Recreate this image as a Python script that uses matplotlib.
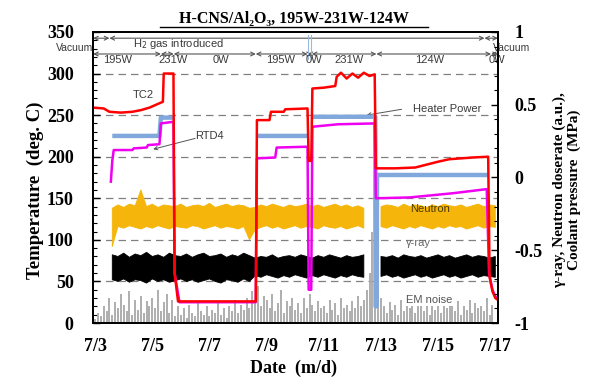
import numpy as np
import matplotlib
matplotlib.use('Agg')
import matplotlib.pyplot as plt
from matplotlib.ticker import MultipleLocator
from matplotlib.lines import Line2D

plt.rcParams['axes.unicode_minus'] = False

# ---------------- data ----------------
date_ticks = [3, 5, 7, 9, 11, 13, 15, 17]
date_labels = ['7/3', '7/5', '7/7', '7/9', '7/11', '7/13', '7/15', '7/17']
right_ticks = [-1, -0.5, 0, 0.5, 1]
right_labels = ['-1', '-0.5', '0', '0.5', '1']

# TC2 (red)
tc2_t = [2.93, 3.3, 3.5, 3.9, 4.3, 4.6, 4.9, 5.1, 5.3, 5.37, 5.4, 5.74, 5.78, 5.9,
         8.62, 8.66, 9.1, 9.15, 9.6, 9.65, 10.43, 10.47, 10.56, 10.6, 11.0, 11.4,
         11.45, 11.6, 11.8, 12.0, 12.2, 12.4, 12.6, 12.78, 12.82, 13.5, 14.2, 15.0,
         15.4, 16.2, 16.75, 16.8, 16.9, 17.0, 17.08]
tc2_v = [259, 258, 254, 253, 254, 256, 259, 262, 265, 266, 300, 300, 60, 26,
         26, 244, 244, 254, 254, 257, 258, 195, 195, 282, 283, 285,
         296, 301, 294, 300, 295, 301, 297, 299, 186, 186, 187, 194,
         197, 199, 200, 55, 38, 30, 28]

# RTD4 (magenta)
rtd4_t = [3.55, 3.6, 3.65, 4.3, 4.35, 4.8, 4.85, 5.25, 5.3, 5.74, 5.78, 5.95,
          8.62, 8.66, 9.3, 9.35, 10.43, 10.47, 10.56, 10.6, 11.5, 12.78, 12.82,
          14.0, 15.5, 16.7, 16.78, 16.9, 17.0, 17.08]
rtd4_v = [170, 195, 208, 208, 210, 211, 214, 215, 240, 242, 60, 25,
          25, 198, 199, 211, 212, 40, 40, 236, 239, 240, 150,
          151, 156, 161, 60, 40, 32, 30]

# Heater power (light blue)
heater_t = [3.6, 5.25, 5.3, 5.74, 5.76, 8.66, 10.43, 10.5, 10.6, 12.8, 12.81,
            12.85, 12.86, 16.75]
heater_v = [225, 225, 247, 247, np.nan, 225, 225, np.nan, 248, 248, 20,
            20, 178, 178]

# Neutron / gamma bands (0.2-day samples from 7/3.6 to 7/17.0)
band_t = np.arange(3.6, 17.01, 0.2)
neutron_hi = [138, 142, 139, 143, 141, 160, 140, 143, 139, 142,
              141, 140, 143, 139, 141, 142, 140, 144, 139, 141,
              143, 140, 142, 141, 138, 139, 142, 140, 143, 141,
              139, 142, 140, 141, 143, 140, 142, 139, 141, 143,
              140, 142, 139, 141, 138, np.nan, np.nan, 140, 142, 141,
              139, 143, 140, 142, 141, 139, 142, 140, 143, 141,
              140, 142, 139, 141, 143, 140, 142, 141]
neutron_lo = [92, 116, 114, 117, 115, 113, 116, 114, 117, 115,
              113, 116, 115, 114, 117, 116, 113, 115, 117, 114,
              116, 115, 113, 116, 100, 112, 115, 117, 114, 116,
              113, 115, 117, 114, 116, 115, 113, 117, 115, 114,
              116, 113, 115, 117, 114, np.nan, np.nan, 116, 114, 117,
              115, 113, 116, 114, 117, 115, 113, 116, 114, 117,
              115, 116, 113, 115, 117, 114, 116, 115]
gamma_hi = [82, 80, 84, 79, 83, 81, 85, 80, 82, 79,
            84, 81, 80, 83, 79, 82, 84, 80, 81, 83,
            79, 82, 80, 84, 81, 78, 80, 79, 82, 78,
            80, 81, 79, 82, 80, 78, 81, 79, 82, 80,
            78, 81, 79, 80, 82, np.nan, np.nan, 80, 79, 81,
            78, 82, 80, 79, 81, 78, 80, 82, 79, 81,
            78, 80, 82, 79, 81, 80, 78, 80]
gamma_lo = [52, 50, 53, 49, 52, 51, 48, 53, 50, 52,
            49, 51, 53, 50, 52, 49, 51, 53, 50, 48,
            52, 51, 49, 53, 50, 57, 55, 58, 56, 54,
            57, 55, 58, 56, 54, 57, 55, 58, 56, 54,
            57, 55, 58, 56, 55, np.nan, np.nan, 56, 58, 55,
            57, 54, 56, 58, 55, 57, 54, 56, 58, 55,
            57, 54, 56, 58, 55, 57, 56, 55]

# EM noise spikes (0.1-day samples from 7/3.0)
em_t = np.arange(3.0, 16.95, 0.1)
em_h = [5, 12, 8, 20, 15, 30, 10, 25, 18, 35,
        22, 14, 38, 10, 28, 16, 32, 12, 26, 20,
        30, 18, 40, 15, 25, 35, 12, 28, 8, 20,
        10, 18, 6, 22, 12, 8, 25, 14, 10, 20,
        8, 16, 12, 24, 10, 18, 6, 20, 14, 28,
        12, 22, 16, 30, 18, 38, 26, 45, 20, 32,
        28, 18, 35, 14, 24, 40, 12, 26, 20, 30,
        16, 24, 12, 30, 18, 35, 22, 14, 26, 18,
        20, 12, 28, 16, 24, 10, 30, 18, 22, 14,
        26, 18, 32, 20, 28, 40, 60, 110, 95, 40,
        30, 20, 12, 25, 16, 22, 10, 28, 14, 24,
        18, 30, 12, 22, 26, 14, 32, 10, 20, 16,
        24, 12, 28, 18, 22, 30, 14, 26, 10, 20,
        16, 28, 12, 24, 18, 20, 14, 30, 10, 22]

# annotation rows
gas_bounds = [2.93, 3.5, 16.62, 17.09]
power_bounds = [2.93, 5.3, 5.75, 8.62, 10.43, 10.58, 12.84, 16.85, 17.09]
power_labels = ['195W', '231W', '0W', '195W', '0W', '231W', '124W', '0W']
power_label_x = [3.8, 5.73, 7.4, 9.5, 10.67, 11.9, 14.7, 17.07]
blip_marks = [10.43, 10.56]

# ---------------- figure ----------------
SERIF = 'Liberation Serif'
SANS = 'Liberation Sans'
fig = plt.figure(figsize=(5.97, 3.85), dpi=100)
ax = fig.add_axes([0.156, 0.161, 0.678, 0.756])
ax.set_xlim(2.93, 17.09)
ax.set_ylim(0, 350)

for yv in [50, 100, 150, 200, 250, 300]:
    ax.axhline(yv, color='#808080', lw=0.9, dashes=(6, 4), zorder=1)

ax.vlines(em_t, 0, em_h, color='#a8a8a8', lw=1.3, zorder=2)
ax.fill_between(band_t, gamma_lo, gamma_hi, color='black', lw=0.6, edgecolor='black', zorder=3)
ax.fill_between(band_t, neutron_lo, neutron_hi, color='#f5b50a', lw=0.6,
                edgecolor='#f5b50a', zorder=3)

ax.plot(heater_t, heater_v, color='#80a8dc', lw=3.2, zorder=4, solid_capstyle='butt')
ax.plot(rtd4_t, rtd4_v, color='#f000f0', lw=1.8, zorder=5)
ax.plot(tc2_t, tc2_v, color='#ff0000', lw=1.8, zorder=6)

# annotation arrow rows
ap = dict(arrowstyle='<->', lw=0.8, color='#555555', shrinkA=0, shrinkB=0, mutation_scale=7)
for a, b in zip(gas_bounds[:-1], gas_bounds[1:]):
    ax.annotate('', xy=(b, 342.5), xytext=(a, 342.5), arrowprops=ap, annotation_clip=False)
for a, b in zip(power_bounds[:-1], power_bounds[1:]):
    ax.annotate('', xy=(b, 323.5), xytext=(a, 323.5), arrowprops=ap, annotation_clip=False)
for bx in blip_marks:
    ax.plot([bx, bx], [318, 346], color='#9ab8e0', lw=0.8, zorder=4)

tkw = dict(fontfamily=SANS, fontsize=8, color='#3a3a3a', clip_on=False, zorder=8)
ax.text(2.93, 331, 'Vacuum', ha='right', va='center', fontfamily=SANS, fontsize=7.5,
        color='#3a3a3a', clip_on=False, zorder=8)
ax.text(5.9, 335, 'H$_2$ gas introduced', ha='center', va='center', **tkw)
ax.text(16.9, 331, 'Vacuum', ha='left', va='center', fontfamily=SANS, fontsize=7.5,
        color='#3a3a3a', clip_on=False, zorder=8)
for lx, lt in zip(power_label_x, power_labels):
    ax.text(lx, 316, lt, ha='center', va='center', **tkw)

ax.text(4.68, 274, 'TC2', ha='center', va='center', **tkw)
ax.text(7.0, 225, 'RTD4', ha='center', va='center', **tkw)
ax.annotate('', xy=(5.03, 209), xytext=(6.5, 222),
            arrowprops=dict(arrowstyle='->', lw=0.7, color='#555555', shrinkA=0, shrinkB=0,
                            mutation_scale=6))
ax.text(15.3, 257, 'Heater Power', ha='center', va='center', **tkw)
ax.annotate('', xy=(12.5, 250), xytext=(13.72, 257),
            arrowprops=dict(arrowstyle='->', lw=0.7, color='#555555', shrinkA=0, shrinkB=0,
                            mutation_scale=6))
ax.text(14.7, 137, 'Neutron', ha='center', va='center', fontfamily=SANS, fontsize=8,
        color='#4a3a00', zorder=8)
ax.text(14.3, 96, 'γ-ray', ha='center', va='center', fontfamily=SANS, fontsize=8,
        color='#666666', zorder=8)
ax.text(14.7, 28, 'EM noise', ha='center', va='center', fontfamily=SANS, fontsize=8,
        color='#555555', zorder=8,
        bbox=dict(facecolor='white', edgecolor='none', pad=1.0))

# axes styling
ax.set_xticks(date_ticks)
ax.set_xticklabels(date_labels)
ax.tick_params(axis='x', length=0, pad=11)
ax.yaxis.set_major_locator(MultipleLocator(50))
ax.yaxis.set_minor_locator(MultipleLocator(10))
ax.tick_params(axis='y', which='major', direction='in', length=5, width=1, pad=14)
ax.tick_params(axis='y', which='minor', direction='in', length=3, width=0.8)
for lab in ax.get_xticklabels() + ax.get_yticklabels():
    lab.set_fontfamily(SERIF)
    lab.set_fontweight('bold')
    lab.set_fontsize(13)
for sp in ax.spines.values():
    sp.set_linewidth(1.3)

ax2 = ax.twinx()
ax2.set_ylim(-1, 1)
ax2.set_yticks(right_ticks)
ax2.set_yticklabels(right_labels)
ax2.yaxis.set_minor_locator(MultipleLocator(0.1))
ax2.tick_params(axis='y', which='major', direction='in', length=5, width=1, pad=12)
ax2.tick_params(axis='y', which='minor', direction='in', length=3, width=0.8)
for lab in ax2.get_yticklabels():
    lab.set_fontfamily(SERIF)
    lab.set_fontweight('bold')
    lab.set_fontsize(13)
for sp in ax2.spines.values():
    sp.set_linewidth(1.3)

# titles / labels
fig.text(294 / 597, 1 - 19 / 385, 'H-CNS/Al₂O₃, 195W-231W-124W', ha='center', va='center',
         fontfamily=[SERIF, 'DejaVu Serif'], fontweight='bold', fontsize=11.5)
fig.add_artist(Line2D([160 / 597, 428 / 597], [1 - 27 / 385, 1 - 27 / 385],
                      color='black', lw=1.0))
fig.text(35 / 597, 1 - 190 / 385, 'Temperature  (deg. C)', rotation=90, ha='center',
         va='center', fontfamily=SERIF, fontweight='bold', fontsize=13.5)
fig.text(567 / 597, 1 - 190 / 385, 'γ-ray, Neutron doserate (a.u.),\nCoolant pressure  (MPa)',
         rotation=90, ha='center', va='center', multialignment='center',
         fontfamily=SERIF, fontweight='bold', fontsize=11, linespacing=1.1)
fig.text(293 / 597, 1 - 368 / 385, 'Date  (m/d)', ha='center', va='center',
         fontfamily=SERIF, fontweight='bold', fontsize=13)

fig.savefig('out.png', dpi=100)
